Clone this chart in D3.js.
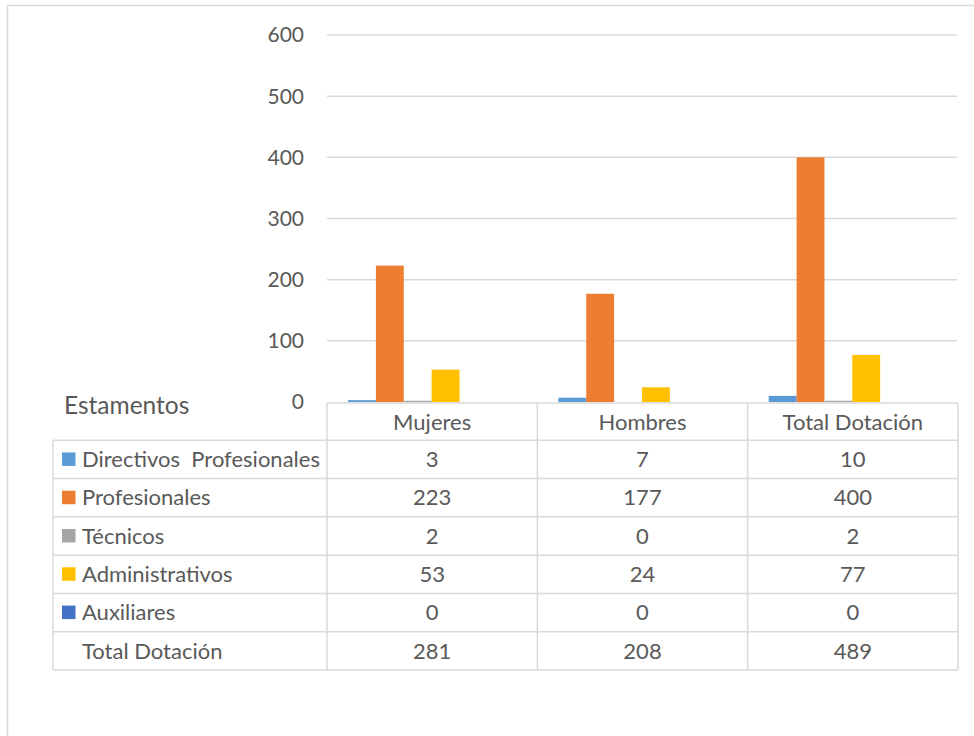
<!DOCTYPE html>
<html>
<head>
<meta charset="utf-8">
<script src="https://cdn.jsdelivr.net/npm/d3@7"></script>
<style>
  body { margin: 0; background: #fff; }
  text { font-family: Lato, "Open Sans", sans-serif; fill: #595959; }
</style>
</head>
<body>
<svg id="chart"></svg>
<script>
// data
const categories = ["Mujeres", "Hombres", "Total Dotación"];
const seriesNames = ["Directivos  Profesionales", "Profesionales", "Técnicos", "Administrativos", "Auxiliares"];
const directivos = [3, 7, 10];
const profesionales = [223, 177, 400];
const tecnicos = [2, 0, 2];
const administrativos = [53, 24, 77];
const auxiliares = [0, 0, 0];
const totalDotacion = [281, 208, 489];
const yTicks = [0, 100, 200, 300, 400, 500, 600];
const colors = ["#5B9BD5", "#ED7D31", "#A5A5A5", "#FFC000", "#4472C4"];

const seriesValues = [directivos, profesionales, tecnicos, administrativos, auxiliares];
const rowLabels = seriesNames.concat(["Total Dotación"]);
const rowValues = seriesValues.concat([totalDotacion]);

const width = 974;
const height = 736;
const plotLeft = 327;
const plotRight = 958;
const plotTop = 35;
const plotBottom = 402;
const tableLeft = 53;
const tableBottom = 670;
const fontSize = 22;

const svg = d3.select("#chart")
    .attr("width", width)
    .attr("height", height);

// outer chart border (right and bottom run off the picture)
svg.append("rect")
    .attr("x", 7.5)
    .attr("y", 5.5)
    .attr("width", width + 10)
    .attr("height", height + 10)
    .attr("fill", "none")
    .attr("stroke", "#d9d9d9")
    .attr("stroke-width", 1.5);

const y = d3.scaleLinear()
    .domain([0, 600])
    .range([plotBottom, plotTop]);

const x0 = d3.scaleBand()
    .domain(categories)
    .range([plotLeft, plotRight]);

// the total row keeps a slot in each group but has no bar
const x1 = d3.scaleBand()
    .domain(rowLabels)
    .range([x0.bandwidth() * 0.1, x0.bandwidth() * 0.895]);

// gridlines
svg.append("g")
    .selectAll("line")
    .data(yTicks.filter(d => d > 0))
    .join("line")
    .attr("x1", plotLeft)
    .attr("x2", plotRight - 1)
    .attr("y1", d => y(d))
    .attr("y2", d => y(d))
    .attr("stroke", "#d9d9d9")
    .attr("stroke-width", 1.5);

// y tick labels
svg.append("g")
    .selectAll("text")
    .data(yTicks)
    .join("text")
    .attr("x", 304)
    .attr("y", d => y(d))
    .attr("dy", "0.35em")
    .attr("text-anchor", "end")
    .style("font-size", "21px")
    .text(d => d);

// bars
const groups = svg.append("g")
    .selectAll("g")
    .data(categories)
    .join("g")
    .attr("transform", d => `translate(${x0(d)},0)`);

groups.selectAll("rect")
    .data((c, ci) => seriesNames.map((s, si) => ({ s, si, v: seriesValues[si][ci] })))
    .join("rect")
    .attr("x", d => x1(d.s))
    .attr("width", x1.bandwidth())
    .attr("y", d => y(d.v))
    .attr("height", d => y(0) - y(d.v))
    .attr("fill", d => colors[d.si]);

// data table
const rows = rowLabels.length;
const rowH = (tableBottom - plotBottom) / (rows + 1);
const rowY = i => plotBottom + rowH * (i + 1); // top of body row i

const table = svg.append("g")
    .attr("stroke", "#d9d9d9")
    .attr("stroke-width", 1.5)
    .attr("fill", "none");

// horizontal lines
table.append("line")
    .attr("x1", plotLeft).attr("x2", plotRight)
    .attr("y1", plotBottom + 1).attr("y2", plotBottom + 1);
d3.range(rows + 1).forEach(i => {
    table.append("line")
        .attr("x1", tableLeft).attr("x2", plotRight)
        .attr("y1", rowY(i)).attr("y2", rowY(i));
});
// vertical lines
table.append("line")
    .attr("x1", tableLeft).attr("x2", tableLeft)
    .attr("y1", rowY(0)).attr("y2", tableBottom);
categories.forEach(c => {
    table.append("line")
        .attr("x1", x0(c)).attr("x2", x0(c))
        .attr("y1", plotBottom + 1).attr("y2", tableBottom);
});
table.append("line")
    .attr("x1", plotRight).attr("x2", plotRight)
    .attr("y1", plotBottom + 1).attr("y2", tableBottom);

// header
svg.append("g")
    .selectAll("text")
    .data(categories)
    .join("text")
    .attr("x", d => x0(d) + x0.bandwidth() / 2)
    .attr("y", plotBottom + rowH / 2 + 1)
    .attr("dy", "0.35em")
    .attr("text-anchor", "middle")
    .style("font-size", fontSize + "px")
    .text(d => d);

svg.append("text")
    .attr("x", 64)
    .attr("y", 405)
    .attr("dy", "0.35em")
    .style("font-size", "24.5px")
    .text("Estamentos");

// row labels, legend keys, values
rowLabels.forEach((label, i) => {
    const cy = rowY(i) + rowH / 2;
    if (i < seriesNames.length) {
        svg.append("rect")
            .attr("x", 62)
            .attr("y", cy - 7)
            .attr("width", 13.5)
            .attr("height", 13.5)
            .attr("fill", colors[i]);
    }
    svg.append("text")
        .attr("x", 82)
        .attr("y", cy)
        .attr("dy", "0.35em")
        .style("font-size", fontSize + "px")
        .style("white-space", "pre")
        .text(label);
    categories.forEach((c, ci) => {
        svg.append("text")
            .attr("x", x0(c) + x0.bandwidth() / 2)
            .attr("y", cy)
            .attr("dy", "0.35em")
            .attr("text-anchor", "middle")
            .style("font-size", fontSize + "px")
            .text(rowValues[i][ci]);
    });
});
</script>
</body>
</html>
